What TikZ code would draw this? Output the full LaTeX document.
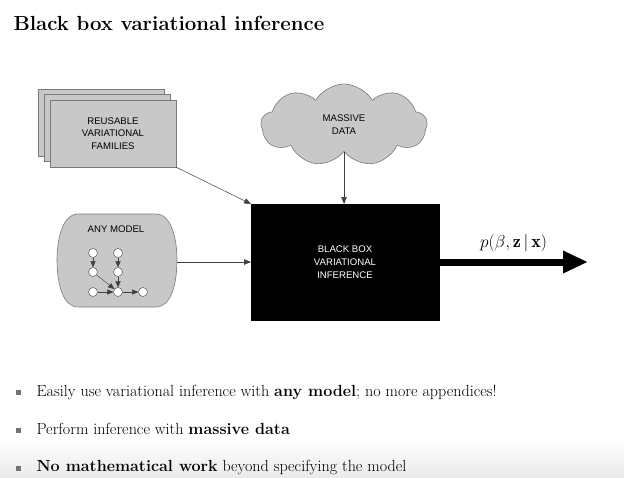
\documentclass[tikz,border=0pt]{standalone}
\usepackage{fontspec}
\newfontfamily\boxfont{Liberation Sans}
\usetikzlibrary{arrows,arrows.meta,shapes.symbols}
\definecolor{boxgray}{HTML}{C8C8C8}
\definecolor{edgegray}{HTML}{7A7A7A}

\begin{document}
\begin{tikzpicture}[x=1pt,y=-1pt]
\tikzstyle{card}=[draw=edgegray,fill=boxgray,line width=.6pt]
\tikzstyle{caps}=[font=\boxfont\fontsize{9.6}{12.8}\selectfont,align=center]
\tikzstyle{feed}=[draw=black!75,line width=.5pt,-triangle 45]
\tikzstyle{edge}=[draw=black!75,line width=.4pt,-triangle 45]
\tikzstyle{dot}=[circle,draw=black!75,fill=white,line width=.4pt,inner sep=0pt,minimum size=9pt]
\tikzstyle{bullet}=[fill=black!55,inner sep=0pt,minimum size=5pt]
\tikzstyle{point}=[anchor=base west,font=\fontsize{16.1}{19}\selectfont]

\useasboundingbox (0,0) rectangle (624,477);
\shade[top color=white,bottom color=black!8] (0,438) rectangle (624,477);

%title
\node[anchor=base west,font=\bfseries\fontsize{20.4}{24}\selectfont] (title) at (10,30)
  {Black box variational inference};

%stack of families
\draw[card] (38,89) rectangle (164,156);
\draw[card] (44,94) rectangle (170,161);
\node[card,caps,minimum width=126pt,minimum height=67pt] (fam) at (113,133.5)
  {REUSABLE\\VARIATIONAL\\FAMILIES};

%model box and its graph
\draw[card] (78,214) -- (156,214) .. controls (171,214) and (177,238) .. (177,260)
  .. controls (177,284) and (171,307) .. (156,307) -- (78,307)
  .. controls (63,307) and (57,284) .. (57,260)
  .. controls (57,238) and (63,214) .. (78,214);
\node[caps] (model) at (116,229) {ANY MODEL};
\coordinate (modelR) at (177,262);
\node[dot] (g1) at (93,253) {};
\node[dot] (g2) at (118,253) {};
\node[dot] (g3) at (93,272) {};
\node[dot] (g4) at (118,272) {};
\node[dot] (g5) at (93,292) {};
\node[dot] (g6) at (118,292) {};
\node[dot] (g7) at (143,292) {};
\draw[edge] (g1) -- (g3);
\draw[edge] (g2) -- (g4);
\draw[edge] (g3) -- (g6);
\draw[edge] (g4) -- (g6);
\draw[edge] (g5) -- (g6);
\draw[edge] (g6) -- (g7);

%cloud of data
\node[cloud,cloud puffs=9,cloud puff arc=120,aspect=2.1,fill=boxgray,draw=edgegray,
  line width=.6pt,minimum width=166pt,minimum height=82pt,caps] (data) at (344,125)
  {MASSIVE\\DATA};

%black box
\node[fill=black,draw=black,text=white,caps,minimum width=188pt,minimum height=116pt]
  (bbvi) at (345,262) {BLACK BOX\\VARIATIONAL\\INFERENCE};

%inputs
\draw[feed] (fam.south east) -- (bbvi.north west);
\draw[feed] (modelR) -- (bbvi.west);
\draw[feed] (data.south) -- (data.south |- bbvi.north);

%output
\coordinate (out) at (588,262);
\draw[line width=7pt,-{Triangle[length=25pt,width=21pt]}] (bbvi.east) -- (out)
  node[pos=.5,above=3pt,font=\fontsize{18}{21}\selectfont] {$p(\beta,\mathbf{z}\,|\,\mathbf{x})$};

%points
\node[bullet] (b1) at (18.5,392.5) {};
\node[point] (p1) at (33,396) {Easily use variational inference with \textbf{any model}; no more appendices!};
\node[bullet] (b2) at (18.5,430.5) {};
\node[point] (p2) at (33,434) {Perform inference with \textbf{massive data}};
\node[bullet] (b3) at (18.5,468) {};
\node[point] (p3) at (33,471) {\textbf{No mathematical work} beyond specifying the model};

\end{tikzpicture}
\end{document}
